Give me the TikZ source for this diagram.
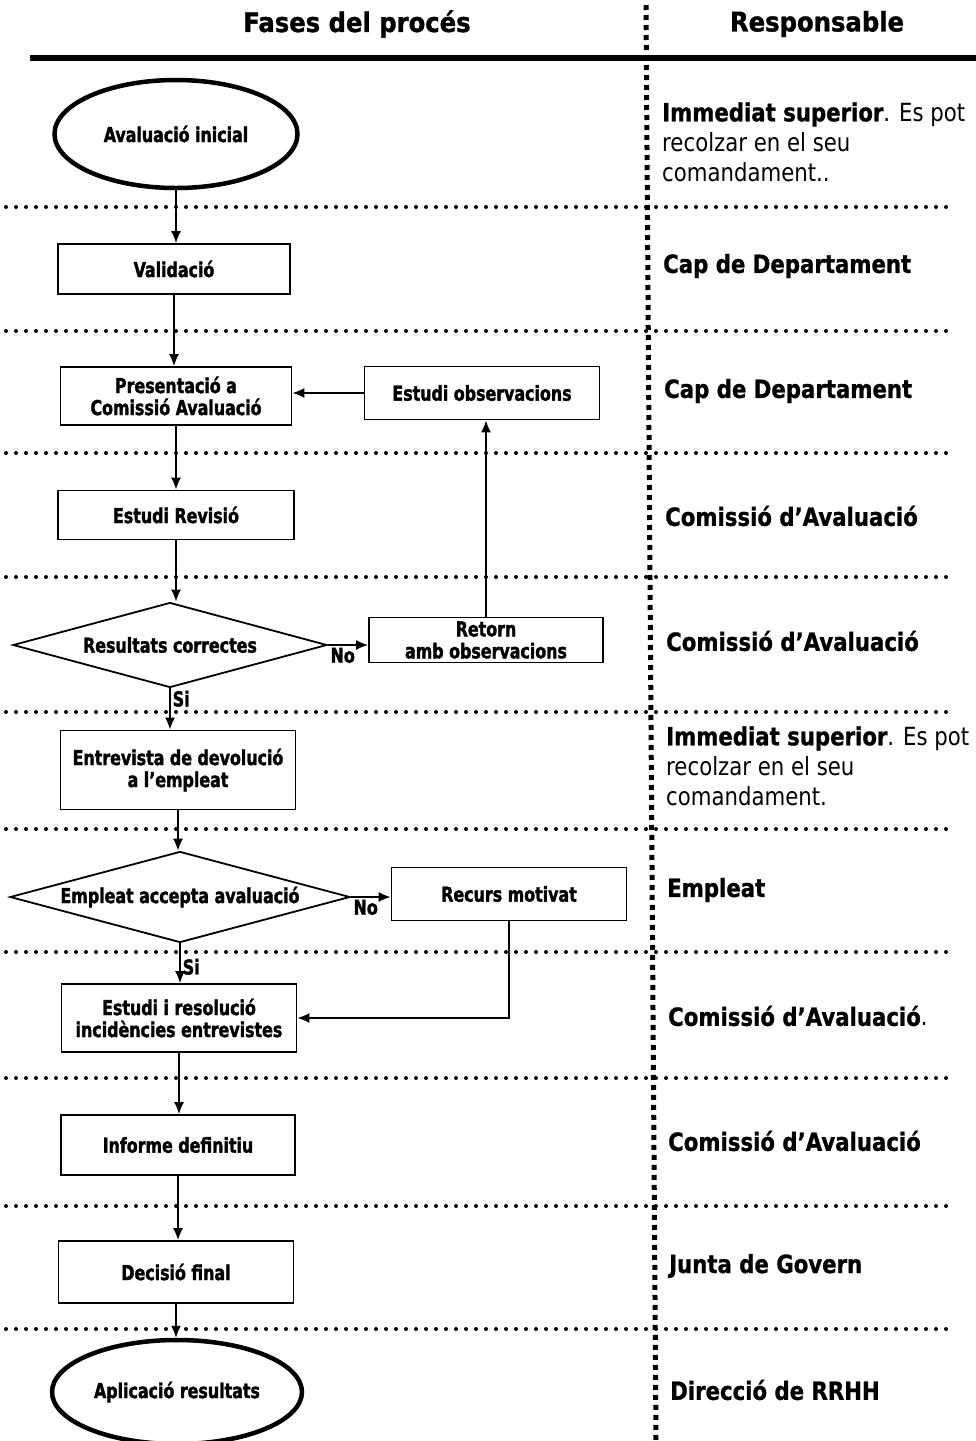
\documentclass[tikz,border=0pt]{standalone}
\usepackage{fontspec}
\setmainfont{DejaVu Sans}
\newfontfamily\titolfont[BoldFeatures={FakeBold=1.2}]{DejaVu Sans Condensed}
\newfontfamily\caixafont[FakeStretch=0.86, BoldFeatures={FakeBold=1.6}]{DejaVu Sans Condensed}
\newfontfamily\respfont[FakeStretch=0.85, BoldFeatures={FakeBold=1}]{DejaVu Sans}
\usetikzlibrary{arrows.meta,shapes.geometric}

\begin{document}
\begin{tikzpicture}[x=1pt, y=-1pt,
    caixa/.style={draw, line width=1.8pt, rectangle, inner sep=0pt, align=center,
        font=\caixafont\bfseries\fontsize{20.5}{22}\selectfont},
    extrem/.style={draw, line width=4.5pt, ellipse, inner sep=0pt,
        font=\caixafont\bfseries\fontsize{20.5}{22}\selectfont},
    decisio/.style={draw, line width=1.8pt, diamond, inner sep=0pt, aspect=3.7,
        font=\caixafont\bfseries\fontsize{20.5}{22}\selectfont},
    seta/.style={-{Latex[length=12pt,width=10pt]}, line width=1.5pt},
    etiq/.style={inner sep=2pt, font=\caixafont\bfseries\fontsize{20.5}{22}\selectfont},
    resp/.style={anchor=west, align=left, inner sep=0pt,
        font=\respfont\fontsize{25}{30}\selectfont},
    titol/.style={font=\titolfont\bfseries\fontsize{27}{30}\selectfont}]

    \useasboundingbox (0,0) rectangle (976,1441);

    % Cabecalho
    \node[titol] (tfases) at (357,24) {Fases del procés};
    \node[titol] (tresp) at (817,24) {Responsable};
    \draw [line width=6pt] (30,58)--(976,58);

    % Linhas de separacao
    \draw [line width=5pt, dash pattern=on 5pt off 5pt] (646,5)--(656,1441);
    \foreach \y in {207,331,453,577,712,829,952,1078,1206,1329}
        \draw [line width=4pt, line cap=round, dash pattern=on 0pt off 10pt] (6,\y)--(956,\y);

    % Fases
    \node[extrem, minimum width=243, minimum height=108] (ini) at (176,134) {Avaluació inicial};
    \node[caixa, minimum width=232, minimum height=50] (val) at (174,269) {Validació};
    \node[caixa, minimum width=231, minimum height=58] (pres) at (176,396) {Presentació a\\Comissió Avaluació};
    \node[caixa, minimum width=235, minimum height=53] (obs) at (482,393) {Estudi observacions};
    \node[caixa, minimum width=236, minimum height=49] (rev) at (176,515) {Estudi Revisió};
    \node[decisio, minimum width=314, minimum height=85] (res) at (170,645) {Resultats correctes};
    \node[caixa, minimum width=234, minimum height=45] (ret) at (486,640) {Retorn\\amb observacions};
    \node[caixa, minimum width=235, minimum height=79] (ent) at (178,770) {Entrevista de devolució\\a l’empleat};
    \node[decisio, minimum width=340, minimum height=91] (acc) at (180,897) {Empleat accepta avaluació};
    \node[caixa, minimum width=235, minimum height=53] (rec) at (509,894) {Recurs motivat};
    \node[caixa, minimum width=235, minimum height=68] (inc) at (179,1018) {Estudi i resolució\\incidències entrevistes};
    \node[caixa, minimum width=234, minimum height=60] (inf) at (178,1145) {Informe definitiu};
    \node[caixa, minimum width=235, minimum height=62] (dec) at (176,1272) {Decisió final};
    \node[extrem, minimum width=250, minimum height=104] (apl) at (177,1392) {Aplicació resultats};

    % Setas
    \draw [seta] (ini) -- (ini |- val.north);
    \draw [seta] (val) -- (val |- pres.north);
    \draw [seta] (obs.west) -- (obs.west -| pres.east);
    \draw [seta] (pres) -- (pres |- rev.north);
    \draw [seta] (rev) -- (rev |- res.north);
    \draw [seta] (res.east) -- node[pos=0, below right, etiq] {No} (res.east -| ret.west);
    \draw [seta] (ret) -- (ret |- obs.south);
    \draw [seta] (res) -- node[pos=0.25, right, etiq] {Si} (res |- ent.north);
    \draw [seta] (ent) -- (ent |- acc.north);
    \draw [seta] (acc.east) -- node[pos=0, below right, etiq] {No} (acc.east -| rec.west);
    \draw [seta] (acc) -- node[pos=0.59, right, etiq] {Si} (acc |- inc.north);
    \draw [seta] (rec) |- (inc);
    \draw [seta] (inc) -- (inc |- inf.north);
    \draw [seta] (inf) -- (inf |- dec.north);
    \draw [seta] (dec) -- (dec |- apl.north);

    % Responsables
    \node[resp] (r1) at (662,142) {\textbf{Immediat superior}. Es pot\\recolzar en el seu\\comandament..};
    \node[resp] (r2) at (663,266) {\textbf{Cap de Departament}};
    \node[resp] (r3) at (664,391) {\textbf{Cap de Departament}};
    \node[resp] (r4) at (665,516) {\textbf{Comissió d’Avaluació}};
    \node[resp] (r5) at (666,641) {\textbf{Comissió d’Avaluació}};
    \node[resp] (r6) at (666,766) {\textbf{Immediat superior}. Es pot\\recolzar en el seu\\comandament.};
    \node[resp] (r7) at (667,890) {\textbf{Empleat}};
    \node[resp] (r8) at (668,1016) {\textbf{Comissió d’Avaluació}.};
    \node[resp] (r9) at (668,1141) {\textbf{Comissió d’Avaluació}};
    \node[resp] (r10) at (669,1266) {\textbf{Junta de Govern}};
    \node[resp] (r11) at (670,1390) {\textbf{Direcció de RRHH}};

\end{tikzpicture}
\end{document}
